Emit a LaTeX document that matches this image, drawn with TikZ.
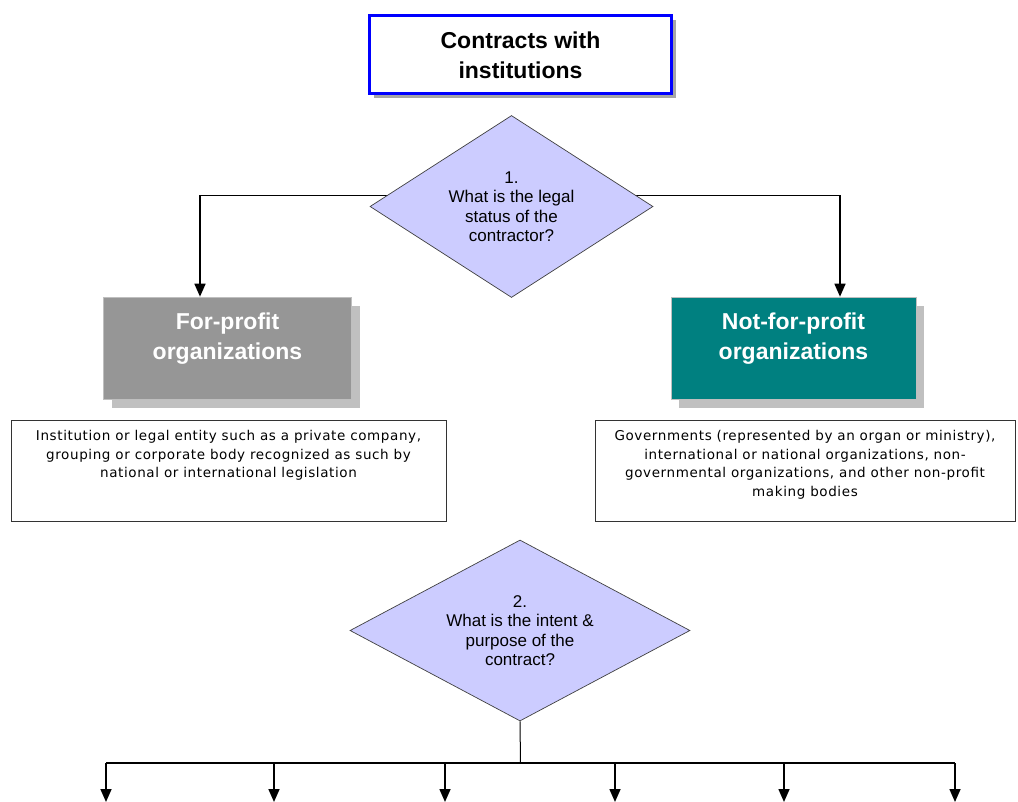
\documentclass[tikz,border=0pt]{standalone}
\usepackage{fontspec}
\setmainfont{Liberation Sans}
\newfontfamily\verd[LetterSpace=4.5]{DejaVu Sans}
\usetikzlibrary{shapes.geometric,arrows.meta,shadows,backgrounds}
\definecolor{lav}{RGB}{204,204,255}
\definecolor{fpgray}{RGB}{150,150,150}
\definecolor{shgray}{RGB}{192,192,192}
\definecolor{tealc}{RGB}{0,128,128}
\definecolor{ttlblue}{RGB}{0,0,255}
\newcommand\topbox[3]{\parbox[c][#1][t]{#2}{\centering #3}}
\tikzset{
  titlebox/.style={draw=ttlblue, line width=3pt, fill=white, minimum width=302pt, minimum height=78pt, inner sep=0pt,
    align=center, font=\bfseries\fontsize{23}{30}\selectfont,
    drop shadow={shadow xshift=4pt, shadow yshift=-4pt, fill=gray!70, opacity=1}},
  orgbox/.style={draw=gray!50, line width=0.6pt, minimum height=102pt, inner sep=0pt, text=white,
    font=\bfseries\fontsize{23}{30}\selectfont,
    drop shadow={shadow xshift=8pt, shadow yshift=-9pt, fill=shgray, opacity=1}},
  descbox/.style={draw=black!80, line width=0.8pt, fill=white, minimum height=101pt, inner sep=0pt,
    font=\verd\fontsize{13.5}{18.5}\selectfont},
  decision/.style={diamond, draw=black!75, line width=0.7pt, fill=lav, inner sep=0pt, align=center,
    font=\fontsize{17}{19.5}\selectfont},
  conn/.style={line width=1.6pt, draw=black},
  arr/.style={conn, -{Triangle[width=11pt,length=13pt]}},
}
\begin{document}
\begin{tikzpicture}[x=1pt,y=-1pt]
\useasboundingbox (0,0) rectangle (1018,802);

\node[titlebox] (title) at (520.5,55) {Contracts with\\institutions};

\node[decision, shape aspect=1.55, minimum width=283pt, minimum height=182pt] (d1) at (511.5,206.5) {1.\\What is the legal\\status of the\\contractor?};

\node[orgbox, fill=fpgray, minimum width=248pt] (fp) at (227.5,348)
  {\topbox{78pt}{240pt}{\strut For-profit\\organizations}};
\node[orgbox, fill=tealc, minimum width=245pt] (np) at (793.5,348)
  {\topbox{78pt}{240pt}{\strut Not-for-profit\\organizations}};

\node[descbox, minimum width=435pt] (fpd) at (228.5,470.5)
  {\topbox{85pt}{428pt}{\strut Institution or legal entity such as a private company,\\grouping or corporate body recognized as such by\\national or international legislation}};
\node[descbox, minimum width=420pt] (npd) at (805,470.5)
  {\topbox{85pt}{415pt}{\strut Governments (represented by an organ or ministry),\\international or national organizations, non-\\governmental organizations, and other non-profit\\making bodies}};

\node[decision, shape aspect=1.88, minimum width=340pt, minimum height=181pt] (d2) at (520,630.5) {2.\\What is the intent \&\\purpose of the\\contract?};

\begin{scope}[on background layer]
\fill[white] (0,0) rectangle (1018,802);
\draw[arr] ([yshift=11pt]d1.center) -| ([xshift=-27.5pt]fp.north);
\draw[arr] ([yshift=11pt]d1.center) -| ([xshift=46.5pt]np.north);
\end{scope}

\coordinate (bus) at (520.5,763);
\draw[line width=1pt] (d2.south) -- (bus);
\foreach \i/\x in {1/106,2/274,3/445,4/615,5/784,6/955}{
  \coordinate (t\i) at (\x,763);
  \coordinate (e\i) at (\x,802);
}
\draw[line width=2pt] (t1) -- (t6);
\foreach \i in {1,...,6}{\draw[arr] (t\i) -- (e\i);}
\end{tikzpicture}
\end{document}
